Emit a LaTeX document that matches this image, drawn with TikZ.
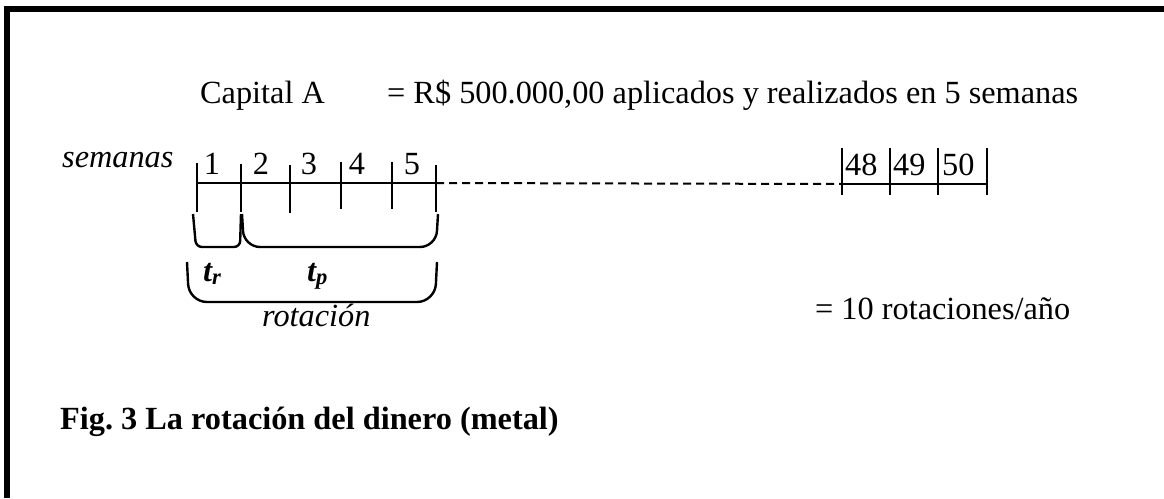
\documentclass[tikz,border=0pt]{standalone}
\usepackage{fontspec}
\setmainfont{Liberation Serif}
\usetikzlibrary{positioning, calc}

\newcommand{\bigtext}{\fontsize{32.3}{38}\selectfont}

\begin{document}
\begin{tikzpicture}[x=1pt, y=-1pt,
    txt/.style={font=\bigtext, inner sep=0pt, anchor=base west},
    num/.style={font=\bigtext, inner sep=0pt, anchor=base},
    axis/.style={line width=2pt},
    tickline/.style={line width=2pt},
    brace/.style={line width=2.4pt},
    frameline/.style={fill=black},
]

\useasboundingbox (0,0) rectangle (1164,498);

% ====== FRAME (top and left only) ======
\fill[frameline] (4,6) rectangle (1164,12);
\fill[frameline] (4,6) rectangle (10,498);

% Row y-coordinates
\def\rT{103}
\def\rA{183}
\def\rB{281}

% ====== HEADER ======
\node[txt] (cap) at (200,\rT) {Capital A};
\node[txt] (val) at (387,\rT) {= R\$ 500.000,00 aplicados y realizados en 5 semanas};

% ====== TIME AXIS ======
\node[txt, font=\bigtext\itshape] (sem) at (62,167) {semanas};

\coordinate (a0) at (197,\rA);
\coordinate (a5) at (436,\rA);
\coordinate (b0) at (842,184);
\coordinate (b3) at (987,184);

\draw[axis] (a0) -- (a5);
\draw[axis, dash pattern=on 8pt off 5pt] (a5) -- (b0);
\draw[axis] (b0) -- (b3);

\foreach \x/\t/\b in {197/163/212, 241/164/212, 290/165/213, 341/162/209, 392/162/209, 436/165/212}
    \draw[tickline] (\x,\t) -- (\x,\b);
\foreach \x in {842, 890, 938, 987}
    \draw[tickline] (\x,148) -- (\x,195);

\node[num] (w1) at (212,174) {1};
\node[num] (w2) at (261,174) {2};
\node[num] (w3) at (309,174) {3};
\node[num] (w4) at (357,174) {4};
\node[num] (w5) at (412,174) {5};

\node[txt] (w48) at (845,175) {48};
\node[txt] (w49) at (893,175) {49};
\node[txt] (w50) at (942,175) {50};

% ====== BRACKETS ======
\draw[brace, rounded corners=6pt] (193,214) -- (196,247) -- (240,247) -- (241,214);
\draw[brace, rounded corners=16pt] (242,214) -- (244,247) -- (436,247) -- (438,214);
\draw[brace, rounded corners=18pt] (187,262) -- (189,302) -- (435,302) -- (437,262);

\node[txt, font=\bigtext\bfseries\itshape] (tr) at (203,\rB) {t\textsubscript{r}};
\node[txt, font=\bigtext\bfseries\itshape] (tp) at (307,\rB) {t\textsubscript{p}};
\node[txt, font=\bigtext\itshape] (rot) at (262,326) {rotación};

\node[txt] (res) at (815,319) {= 10 rotaciones/año};

% ====== CAPTION ======
\node[txt, font=\bigtext\bfseries] (fig) at (60,429) {Fig.\ 3 La rotación del dinero (metal)};

\end{tikzpicture}
\end{document}
